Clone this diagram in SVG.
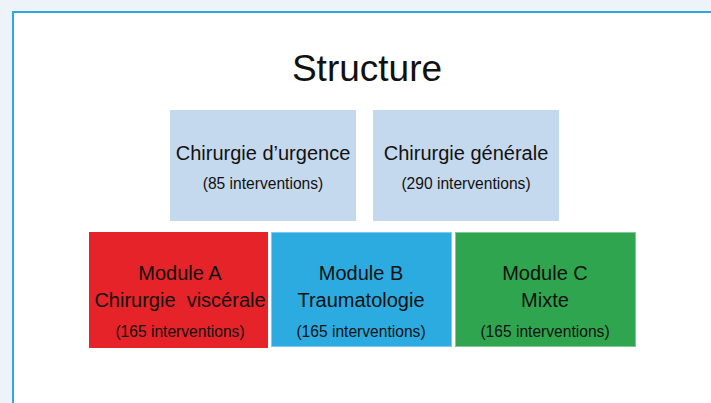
<svg xmlns="http://www.w3.org/2000/svg" width="711" height="403" viewBox="0 0 711 403">
<style>
text{font-family:"Liberation Sans",Arial,sans-serif;fill:#111;text-anchor:middle}
.t1{font-size:20px}
.t2{font-size:15.6px}
.top{fill:#C5D9EE}
</style>
<rect x="0" y="0" width="711" height="403" fill="#EEF2F9"/>
<rect x="13" y="12" width="720" height="420" fill="#FFFFFF" stroke="#2EA8DD" stroke-width="2"/>
<g id="title"><text x="367" y="81" style="font-size:37px">Structure</text></g>
<g id="connectors"></g>
<g id="urgence">
<rect class="top" x="170" y="110" width="186" height="111"/>
<text class="t1" x="263" y="160">Chirurgie d’urgence</text>
<text class="t2" x="263" y="189">(85 interventions)</text>
</g>
<g id="generale">
<rect class="top" x="373" y="110" width="186" height="111"/>
<text class="t1" x="466" y="160">Chirurgie générale</text>
<text class="t2" x="466" y="189">(290 interventions)</text>
</g>
<g id="moduleA">
<rect x="89" y="232" width="179" height="116" fill="#E52328"/>
<text class="t1" x="180" y="280">Module A</text>
<text class="t1" x="180" y="307" xml:space="preserve">Chirurgie  viscérale</text>
<text class="t2" x="180" y="337">(165 interventions)</text>
</g>
<g id="moduleB">
<rect x="271.5" y="232.5" width="180" height="114" fill="#2CABE0" stroke="#7CCBEE" stroke-width="1"/>
<text class="t1" x="361" y="280">Module B</text>
<text class="t1" x="361" y="307">Traumatologie</text>
<text class="t2" x="361" y="337">(165 interventions)</text>
</g>
<g id="moduleC">
<rect x="455.5" y="232.5" width="180" height="114" fill="#30A54F" stroke="#84C995" stroke-width="1"/>
<text class="t1" x="545" y="280">Module C</text>
<text class="t1" x="545" y="307">Mixte</text>
<text class="t2" x="545" y="337">(165 interventions)</text>
</g>
</svg>
